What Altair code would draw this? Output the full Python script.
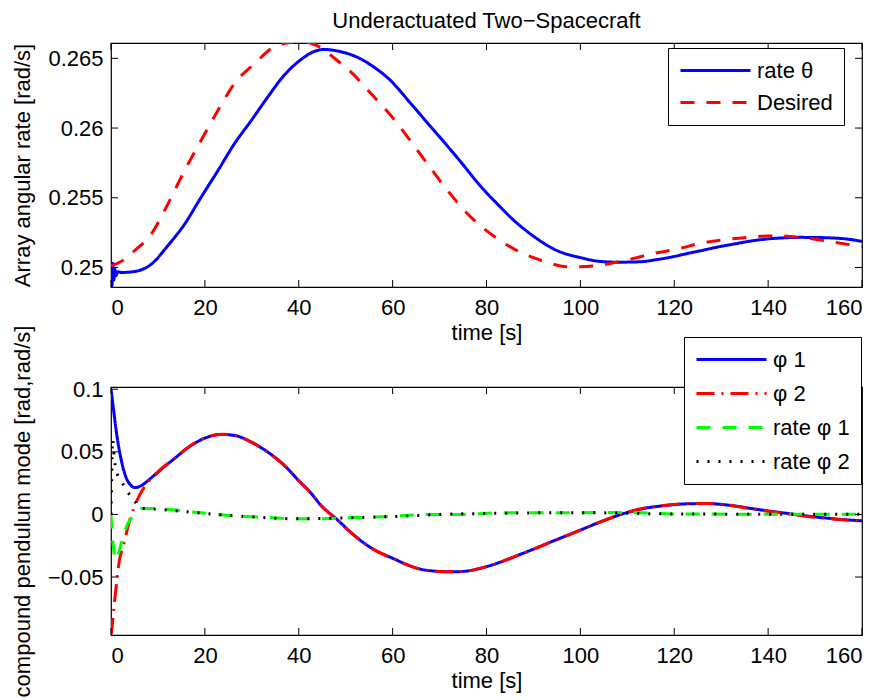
import altair as alt
import pandas as pd

FONT = "Liberation Sans"

# ---------------- data ----------------
x_domain = [0, 160]
x_ticks = [0, 20, 40, 60, 80, 100, 120, 140, 160]

# top panel
top_series = ["rate θ", "Desired"]
top_colors = ["#0000ff", "#ff0000"]
top_dashes = [[1, 0], [14, 12]]
top_widths = [3, 3]
top_y_domain = [0.2486, 0.2661]
top_y_ticks = [0.25, 0.255, 0.26, 0.265]

t_rate = [0, 0.2, 0.4, 0.6, 0.8, 1.0, 1.5, 2.2, 5, 8.6, 12.1, 15.7, 19.2, 22.8, 26.3,
          29.9, 33.4, 36.9, 40.5, 43, 45.5, 48.3, 52.6, 56.8, 58.9, 63.9, 66.7, 70.3,
          74.5, 78.8, 82.3, 85.9, 90.1, 95.1, 100.1, 104.3, 108, 112.8, 116,
          119.7, 122.5, 125.6, 129, 132.7, 136, 139.6, 143, 146.9, 150, 153.5, 156.8, 160]
v_rate = [0.2496, 0.2487, 0.2503, 0.2491, 0.2499, 0.2494, 0.2497, 0.24964, 0.24971,
          0.25024, 0.25156, 0.25312, 0.25504, 0.25696, 0.25888, 0.26055, 0.26223,
          0.26379, 0.26492, 0.26545, 0.26564, 0.26552, 0.26506, 0.26418, 0.26362,
          0.26175, 0.26065, 0.25925, 0.25758, 0.25580, 0.25456, 0.25336, 0.25222,
          0.25120, 0.25070, 0.25043, 0.25038, 0.25041, 0.25055, 0.25077, 0.25098,
          0.25120, 0.25145, 0.25168, 0.25188, 0.25204, 0.25212, 0.25216, 0.25215,
          0.25212, 0.25204, 0.25187]

t_des = [0, 2.5, 5, 8.6, 11.4, 15.7, 19.2, 22.8, 26.3, 30.6, 34.8, 38.4, 40.5, 42.5,
         45.5, 48, 51.1, 55.4, 59.6, 63.2, 67.4, 71.7, 76, 80, 85.9, 90, 93, 97, 100,
         104.3, 110, 115.7, 121.3, 124.8, 130.6, 135.6, 141.9, 146.9, 153.3, 160]
v_des = [0.25012, 0.2505, 0.2512, 0.2524, 0.25408, 0.25696, 0.25912, 0.26127, 0.26319,
         0.26463, 0.26583, 0.26615, 0.2662, 0.2661, 0.26559, 0.26490, 0.26403, 0.26247,
         0.26091, 0.25935, 0.25744, 0.25552, 0.25384, 0.25264, 0.25132, 0.25070,
         0.25036, 0.25006, 0.25005, 0.25017, 0.25055, 0.25101, 0.25137, 0.25168,
         0.25199, 0.25216, 0.25228, 0.25216, 0.25185, 0.25150]

# bottom panel
bot_series = ["φ 1", "φ 2", "rate φ 1", "rate φ 2"]
bot_colors = ["#0000ff", "#ff0000", "#00ff00", "#000000"]
bot_dashes = [[1, 0], [18, 7, 2, 7], [14, 12], [2, 9]]
bot_widths = [3, 3, 3, 1.5]
bot_y_domain = [-0.0963, 0.1018]
bot_y_ticks = [-0.05, 0, 0.05, 0.1]

t_phi1 = [0, 0.5, 1.1, 2.2, 3.3, 4.2, 5, 6, 7.1, 8.5, 10, 13.5, 17.1, 20.6, 23.5, 26.3,
          29.9, 33.4, 36.9, 40, 42.5, 44.7, 48.3, 51, 54, 57, 60, 63, 66, 68.8, 71.7,
          74, 76, 80, 83, 85.9, 89.5, 93, 96.5, 100, 104.3, 109.3, 114.3, 117.8, 121.3,
          124, 127, 130, 132.7, 136, 139.8, 143.3, 146.9, 150, 153.3, 156.7, 160]
v_phi1 = [0.1000, 0.0850, 0.0671, 0.0432, 0.0287, 0.0235, 0.0215, 0.0222, 0.0247,
          0.0290, 0.0339, 0.0446, 0.0552, 0.0618, 0.0639, 0.0631, 0.0578, 0.0498,
          0.0393, 0.0270, 0.0175, 0.0074, -0.0045, -0.0140, -0.0231, -0.0300, -0.0350,
          -0.0400, -0.0438, -0.0452, -0.0457, -0.0457, -0.0451, -0.0417, -0.0380,
          -0.0338, -0.0285, -0.0231, -0.0178, -0.0125, -0.0059, 0.0008, 0.0053, 0.0070,
          0.0082, 0.0086, 0.0087, 0.0080, 0.0069, 0.0050, 0.0029, 0.0012, -0.0006,
          -0.0020, -0.0032, -0.0043, -0.0051]

t_phi2 = [0, 0.2, 0.5, 1.1, 1.8, 2.6, 3.6, 4.7, 6.1, 7.9, 9.3, 10, 13.5, 17.1, 20.6,
          23.5, 26.3, 29.9, 33.4, 36.9, 40, 42.5, 44.7, 48.3, 51, 54, 57, 60, 63, 66,
          68.8, 71.7, 74, 76, 80, 83, 85.9, 89.5, 93, 96.5, 100, 104.3, 109.3, 114.3,
          117.8, 121.3, 124, 127, 130, 132.7, 136, 139.8, 143.3, 146.9, 150, 153.3,
          156.7, 160]
v_phi2 = [-0.097, -0.0908, -0.0788, -0.0576, -0.0364, -0.0258, -0.0099, 0.0034, 0.0154,
          0.0260, 0.0310, 0.0338, 0.0447, 0.0552, 0.0619, 0.0640, 0.0631, 0.0577, 0.0497,
          0.0392, 0.0269, 0.0174, 0.0073, -0.0046, -0.0141, -0.0232, -0.0301, -0.0351,
          -0.0401, -0.0439, -0.0453, -0.0458, -0.0457, -0.0451, -0.0417, -0.0381,
          -0.0339, -0.0286, -0.0232, -0.0179, -0.0126, -0.0060, 0.0009, 0.0055, 0.0072,
          0.0084, 0.0088, 0.0088, 0.0081, 0.0068, 0.0048, 0.0026, 0.0009, -0.0009,
          -0.0023, -0.0034, -0.0045, -0.0052]

t_rphi1 = [0, 0.4, 1.1, 1.8, 2.6, 3.6, 5, 6.5, 9.3, 15.7, 20.6, 26.3, 33.4, 38.4, 43,
           50, 57.5, 68, 75, 82, 100, 110, 120, 140, 160]
v_rphi1 = [0.0, -0.022, -0.0364, -0.0284, -0.0178, -0.0072, -0.0006, 0.0048, 0.0048,
           0.0026, 0.0008, -0.0011, -0.0024, -0.0035, -0.0035, -0.0027, -0.0019, 0.0,
           0.0, 0.0013, 0.0014, 0.0016, 0.0004, 0.0002, 0.0002]

t_rphi2 = [0, 0.15, 0.35, 0.7, 1.1, 2, 2.9, 4.3, 5.4, 6.3, 8, 12, 20, 30, 40, 50, 60,
           70, 80, 100, 120, 140, 160]
v_rphi2 = [0.0, 0.03, 0.06, 0.045, 0.035, 0.028, 0.022, 0.014, 0.0088, 0.0050, 0.0046,
           0.0035, 0.0008, -0.0020, -0.0035, -0.0027, -0.0017, 0.0, 0.0008, 0.0014,
           0.0004, 0.0002, 0.0002]

W = 751
H_TOP = 244
H_BOT = 248
TICK = 7


def panel(names, ts, vs, colors, dashes, widths, ydomain, yticks, yfmt, ytitle,
          lx, ly, row_pad, height, title=None):
    xs = alt.Scale(domain=x_domain, nice=False, zero=False)
    ys = alt.Scale(domain=ydomain, nice=False, zero=False)
    legend = alt.Legend(orient="none", legendX=lx, legendY=ly, title=None,
                        symbolType="M-1,0H6", symbolSize=400, labelOffset=55,
                        padding=11, rowPadding=row_pad, fillColor="white",
                        strokeColor="black", labelFontSize=22, labelFont=FONT,
                        labelColor="black")
    xaxis = alt.Axis(values=x_ticks, format="d", labelPadding=10, titlePadding=4,
                     title="time [s]")
    yaxis = alt.Axis(values=yticks, format=yfmt, labelPadding=8, title=ytitle,
                     titleX=-82, titleBaseline="alphabetic")
    layers = []
    for i, name in enumerate(names):
        df = pd.DataFrame({"t": ts[i], "v": vs[i], "series": name})
        layers.append(
            alt.Chart(df).mark_line(clip=True, interpolate="monotone").encode(
                x=alt.X("t:Q", scale=xs, axis=xaxis),
                y=alt.Y("v:Q", scale=ys, axis=yaxis),
                color=alt.Color("series:N", scale=alt.Scale(domain=names, range=colors),
                                legend=legend),
                strokeDash=alt.StrokeDash("series:N",
                                          scale=alt.Scale(domain=names, range=dashes),
                                          legend=legend),
                strokeWidth=alt.StrokeWidth("series:N",
                                            scale=alt.Scale(domain=names, range=widths),
                                            legend=legend),
            )
        )
    xt = pd.DataFrame({"t": x_ticks})
    yt = pd.DataFrame({"v": yticks})
    layers.append(alt.Chart(xt).mark_rule(color="black", strokeWidth=1).encode(
        x=alt.X("t:Q", scale=xs, axis=xaxis), y=alt.value(height), y2=alt.value(height - TICK)))
    layers.append(alt.Chart(xt).mark_rule(color="black", strokeWidth=1).encode(
        x=alt.X("t:Q", scale=xs, axis=xaxis), y=alt.value(0), y2=alt.value(TICK)))
    layers.append(alt.Chart(yt).mark_rule(color="black", strokeWidth=1).encode(
        y=alt.Y("v:Q", scale=ys, axis=yaxis), x=alt.value(0), x2=alt.value(TICK)))
    layers.append(alt.Chart(yt).mark_rule(color="black", strokeWidth=1).encode(
        y=alt.Y("v:Q", scale=ys, axis=yaxis), x=alt.value(W), x2=alt.value(W - TICK)))
    props = dict(width=W, height=height)
    if title is not None:
        props["title"] = alt.TitleParams(title, offset=10, anchor="middle", frame="group",
                                         fontSize=22, font=FONT, fontWeight="normal",
                                         color="black")
    return alt.layer(*layers).properties(**props)


top = panel(top_series, [t_rate, t_des], [v_rate, v_des], top_colors, top_dashes,
            top_widths, top_y_domain, top_y_ticks, ".3~f", "Array angular rate [rad/s]",
            557, 5, 9, H_TOP, title="Underactuated Two−Spacecraft")
bottom = panel(bot_series, [t_phi1, t_phi2, t_rphi1, t_rphi2],
               [v_phi1, v_phi2, v_rphi1, v_rphi2], bot_colors, bot_dashes, bot_widths,
               bot_y_domain, bot_y_ticks, ".2~f", "compound pendulum mode [rad,rad/s]",
               573, -50, 11, H_BOT)

chart = alt.vconcat(top, bottom, spacing=100, bounds="flush").resolve_scale(
    color="independent", strokeDash="independent", strokeWidth="independent",
    x="independent", y="independent"
).resolve_legend(
    color="independent", strokeDash="independent", strokeWidth="independent"
).properties(
    padding={"left": 10, "top": 8, "right": 5, "bottom": 5}, background="white"
).configure_view(stroke="black", strokeWidth=1.2).configure_axis(
    labelFont=FONT, titleFont=FONT, labelFontSize=22, titleFontSize=22,
    titleFontWeight="normal", labelColor="black", titleColor="black", grid=False,
    ticks=False, domain=False
).configure_legend(labelFont=FONT, labelFontSize=22, labelColor="black")

chart.save("out.html", embed_options={"renderer": "svg", "actions": False})
